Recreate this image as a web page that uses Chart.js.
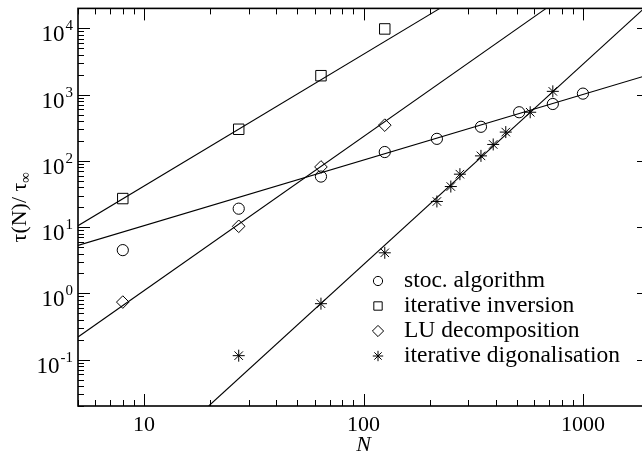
<!DOCTYPE html>
<html>
<head>
<meta charset="utf-8">
<script src="https://cdn.jsdelivr.net/npm/chart.js@4"></script>
<style>
  body { margin: 0; overflow: hidden; background: #fff; }
</style>
</head>
<body>
<canvas id="tauChart" width="660" height="456"></canvas>
<script>
// measured points
const stocSizes = [8, 27, 64, 125, 216, 343, 512, 729, 1000];
const stocTimes = [4.5, 19, 58, 136, 215, 327, 542, 722, 1035];
const inversionSizes = [8, 27, 64, 125];
const inversionTimes = [27, 300, 1930, 9800];
const luSizes = [8, 27, 64, 125];
const luTimes = [0.74, 10.3, 81, 346];
const diagSizes = [27, 64, 125, 216, 250, 275, 343, 390, 445, 575, 729];
const diagTimes = [0.115, 0.7, 4.1, 24.4, 41, 63, 119, 177, 272, 542, 1120];

// fit lines, end points
const stocFitX = [5, 2000];
const stocFitY = [5.3, 2000];
const inversionFitX = [5, 223];
const inversionFitY = [10.5, 20000];
const luFitX = [5, 680];
const luFitY = [0.22, 20000];
const diagFitX = [19.7, 1900];
const diagFitY = [0.02, 20000];

const xMajorTicks = [10, 100, 1000];
const xTickLabels = ["10", "100", "1000"];
const yMajorTicks = [0.1, 1, 10, 100, 1000, 10000];
const yTickExponents = ["-1", "0", "1", "2", "3", "4"];
const legendLabels = [
  "stoc. algorithm",
  "iterative inversion",
  "LU decomposition",
  "iterative digonalisation",
];

const toPoints = (xs, ys) => xs.map((v, i) => ({ x: v, y: ys[i] }));

const fitLine = (xs, ys) => ({
  data: toPoints(xs, ys),
  showLine: true,
  borderColor: "#000",
  borderWidth: 1.1,
  pointRadius: 0,
  pointHoverRadius: 0,
});

const symbols = (label, xs, ys, style, radius) => ({
  label,
  data: toPoints(xs, ys),
  showLine: false,
  pointStyle: style,
  pointRadius: radius,
  pointHoverRadius: radius,
  pointBorderColor: "#000",
  pointBackgroundColor: "rgba(0,0,0,0)",
  pointBorderWidth: 1,
});

// minor tick positions: 2..9 times every decade inside the axis range
const minorTicks = (min, max) => {
  const out = [];
  for (let d = Math.pow(10, Math.floor(Math.log10(min))); d <= max; d *= 10) {
    for (let m = 2; m <= 9; m++) {
      const v = d * m;
      if (v >= min && v <= max) out.push(v);
    }
  }
  return out;
};

const serif = "'Liberation Serif', 'Times New Roman', serif";

const frameAndLabels = {
  id: "frameAndLabels",
  afterDraw(chart) {
    const { ctx, chartArea: a } = chart;
    const x = chart.scales.x;
    const y = chart.scales.y;
    ctx.save();
    ctx.strokeStyle = "#000";
    ctx.fillStyle = "#000";

    // ticks on all four sides, pointing inward
    ctx.lineWidth = 1;
    ctx.beginPath();
    const xTick = (v, len) => {
      const px = Math.round(x.getPixelForValue(v)) + 0.5;
      ctx.moveTo(px, a.bottom);
      ctx.lineTo(px, a.bottom - len);
      ctx.moveTo(px, a.top);
      ctx.lineTo(px, a.top + len);
    };
    const yTick = (v, len) => {
      const py = Math.round(y.getPixelForValue(v)) + 0.5;
      ctx.moveTo(a.left, py);
      ctx.lineTo(a.left + len, py);
      ctx.moveTo(a.right, py);
      ctx.lineTo(a.right - len, py);
    };
    xMajorTicks.forEach((v) => xTick(v, 12));
    minorTicks(x.min, x.max).forEach((v) => xTick(v, 6));
    yMajorTicks.forEach((v) => yTick(v, 12));
    minorTicks(y.min, y.max).forEach((v) => yTick(v, 6));
    ctx.stroke();

    // frame
    ctx.lineWidth = 1.6;
    ctx.strokeRect(a.left, a.top, a.right - a.left, a.bottom - a.top);

    // x tick labels
    ctx.font = "22px " + serif;
    ctx.textAlign = "center";
    ctx.textBaseline = "alphabetic";
    xMajorTicks.forEach((v, i) => {
      ctx.fillText(xTickLabels[i], x.getPixelForValue(v), a.bottom + 25);
    });

    // y tick labels as 10 with a raised exponent
    ctx.textAlign = "right";
    yMajorTicks.forEach((v, i) => {
      const py = y.getPixelForValue(v);
      ctx.font = "15px " + serif;
      const ew = ctx.measureText(yTickExponents[i]).width;
      ctx.fillText(yTickExponents[i], a.left - 5, py + 2);
      ctx.font = "23px " + serif;
      ctx.fillText("10", a.left - 6 - ew, py + 13);
    });

    // axis titles
    ctx.textAlign = "center";
    ctx.font = "italic 22px " + serif;
    ctx.fillText("N", x.getPixelForValue(100), a.bottom + 45);

    ctx.save();
    ctx.translate(26, (a.top + a.bottom) / 2);
    ctx.rotate(-Math.PI / 2);
    ctx.textAlign = "left";
    ctx.font = "22px " + serif;
    const mainText = "\u03c4(N)/ \u03c4";
    const mainW = ctx.measureText(mainText).width;
    ctx.font = "15px " + serif;
    const subW = ctx.measureText("\u221e").width;
    const start = -(mainW + subW) / 2;
    ctx.font = "22px " + serif;
    ctx.fillText(mainText, start, 0);
    ctx.font = "15px " + serif;
    ctx.fillText("\u221e", start + mainW, 4);
    ctx.restore();

    // legend inside the plot
    const legendStyles = [
      { pointStyle: "circle", radius: 4.6 },
      { pointStyle: "rect", radius: 5.9 },
      { pointStyle: "rectRot", radius: 5.6 },
      { pointStyle: "star", radius: 5.2 },
    ];
    ctx.font = "23.5px " + serif;
    ctx.textAlign = "left";
    ctx.lineWidth = 1;
    ctx.fillStyle = "rgba(0,0,0,0)";
    legendLabels.forEach((label, i) => {
      const ly = 281 + i * 25;
      Chart.helpers.drawPoint(ctx, { ...legendStyles[i], rotation: 0, borderWidth: 1 }, 378, ly);
    });
    ctx.fillStyle = "#000";
    legendLabels.forEach((label, i) => {
      const ly = 281 + i * 25;
      ctx.fillText(label, 404, ly + 6);
    });

    ctx.restore();
  },
};

new Chart(document.getElementById("tauChart"), {
  type: "scatter",
  data: {
    datasets: [
      fitLine(stocFitX, stocFitY),
      fitLine(inversionFitX, inversionFitY),
      fitLine(luFitX, luFitY),
      fitLine(diagFitX, diagFitY),
      symbols(legendLabels[0], stocSizes, stocTimes, "circle", 5.6),
      symbols(legendLabels[1], inversionSizes, inversionTimes, "rect", 7.4),
      symbols(legendLabels[2], luSizes, luTimes, "rectRot", 6.3),
      symbols(legendLabels[3], diagSizes, diagTimes, "star", 6),
    ],
  },
  options: {
    responsive: false,
    animation: false,
    layout: { padding: { left: 78, top: 6, right: 11, bottom: 50 } },
    plugins: {
      legend: { display: false },
      tooltip: { enabled: false },
    },
    scales: {
      x: { type: "logarithmic", min: 5, max: 2000, display: false },
      y: { type: "logarithmic", min: 0.02, max: 20000, display: false },
    },
  },
  plugins: [frameAndLabels],
});
</script>
</body>
</html>
